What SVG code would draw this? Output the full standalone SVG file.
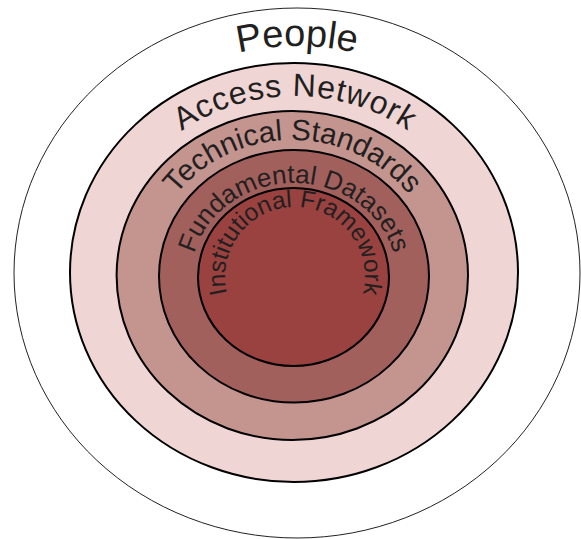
<svg xmlns="http://www.w3.org/2000/svg" width="581" height="539" viewBox="0 0 581 539">
<style>
.ring{stroke:#000;stroke-width:2}
.lbl{font-family:"Liberation Sans",Arial,sans-serif;fill:#231f20;text-anchor:middle}
</style>
<defs>
<path id="pPeople" d="M87.4,386.5 A242,227 0 1 1 506.6,386.5"/>
<path id="pAccess" d="M131.3,360.75 A189,176.5 0 1 1 458.7,360.75"/>
<path id="pTech" d="M166.9,343.25 A145,135.5 0 1 1 418.1,343.25"/>
<path id="pFund" d="M204.8,324 A103,94 0 1 1 383.2,324"/>
<path id="pInst" d="M234.4,312 A70,70 0 1 1 355.6,312"/>
</defs>
<rect width="581" height="539" fill="#fff"/>
<g id="people">
<ellipse cx="297" cy="273" rx="283" ry="265" fill="#fff" stroke="#222" stroke-width="1"/>
<text class="lbl" font-size="38"><textPath href="#pPeople" startOffset="50%">People</textPath></text>
</g>
<g id="access-network">
<ellipse class="ring" cx="294" cy="272.5" rx="224" ry="209.5" fill="#f0d5d5"/>
<text class="lbl" font-size="32" letter-spacing="0.8"><textPath href="#pAccess" startOffset="50%">Access Network</textPath></text>
</g>
<g id="technical-standards">
<ellipse class="ring" cx="292.3" cy="275.5" rx="175.7" ry="164.5" fill="#c4948f"/>
<text class="lbl" font-size="29.5"><textPath href="#pTech" startOffset="50%">Technical Standards</textPath></text>
</g>
<g id="fundamental-datasets">
<ellipse class="ring" cx="294" cy="276.3" rx="135" ry="126.3" fill="#a2605d"/>
<text class="lbl" font-size="26"><textPath href="#pFund" startOffset="50%">Fundamental Datasets</textPath></text>
</g>
<g id="institutional-framework">
<ellipse class="ring" cx="293.5" cy="277" rx="95.5" ry="89" fill="#9a4240"/>
<text class="lbl" font-size="24.5"><textPath href="#pInst" startOffset="50%">Institutional Framework</textPath></text>
</g>
<g id="connectors"/>
</svg>
